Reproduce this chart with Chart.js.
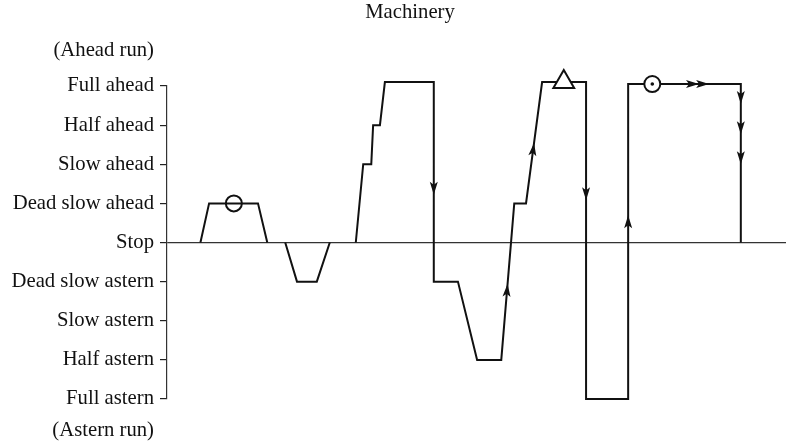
<!DOCTYPE html>
<html lang="en">
<head>
  <meta charset="UTF-8" />
  <title>Machinery</title>
  <script src="https://cdn.jsdelivr.net/npm/chart.js"></script>
  <style>
    html, body { margin: 0; padding: 0; background: #fff; }
    #wrap { width: 790px; height: 443px; position: relative; }
  </style>
</head>
<body>
  <div id="wrap"><canvas id="chart"></canvas></div>
  <script>
    const levelLabels = [
      "Full astern", "Half astern", "Slow astern", "Dead slow astern", "Stop",
      "Dead slow ahead", "Slow ahead", "Half ahead", "Full ahead"
    ];
    const runLabels = ["(Ahead run)", "(Astern run)"];
    const runLevels = [4.9, -4.8];

    // telegraph order over time (null level = back on Stop, line broken)
    const times  = [5.4, 6.8, 14.7, 16.2, 17.6, 19.1, 21.0, 24.2, 26.3, 28.4,
                    30.5, 31.7, 33.0, 33.3, 34.4, 35.2, 43.1, 43.1, 47.0, 50.1,
                    54.0, 56.1, 58.0, 60.6, 67.7, 67.7, 74.5, 74.5, 92.7, 92.7];
    const levels = [0, 1, 1, 0, null, 0, -1, -1, 0, null,
                    0, 2, 2, 3, 3, 4.1, 4.1, -1, -1, -3,
                    -3, 1, 1, 4.1, 4.1, -4, -4, 4.05, 4.05, 0];

    // symbols on the record
    const markerTimes  = [10.8, 64.1, 78.4];
    const markerLevels = [1, 4.1, 4.05];
    const markerStyles = ["circle", "triangle", "circle"];

    // arrowheads: segment index (from point i to i+1) and position along it
    const arrowSeg = [16, 20, 22, 24, 26, 27, 27, 28, 28, 28];
    const arrowAt  = [0.56, 0.48, 0.49, 0.37, 0.58, 0.62, 0.71, 0.12, 0.31, 0.50];

    const serif = '"Liberation Serif", "Times New Roman", serif';

    const extras = {
      id: 'extras',
      afterDatasetsDraw(chart) {
        const { ctx, scales: { x, y } } = chart;
        ctx.save();
        ctx.fillStyle = '#111';
        arrowSeg.forEach((s, k) => {
          const x0 = x.getPixelForValue(times[s]), y0 = y.getPixelForValue(levels[s]);
          const x1 = x.getPixelForValue(times[s + 1]), y1 = y.getPixelForValue(levels[s + 1]);
          const f = arrowAt[k];
          const px = x0 + (x1 - x0) * f, py = y0 + (y1 - y0) * f;
          ctx.save();
          ctx.translate(px, py);
          ctx.rotate(Math.atan2(y1 - y0, x1 - x0));
          ctx.beginPath();
          ctx.moveTo(1, 0);
          ctx.lineTo(-12, -4);
          ctx.lineTo(-9, 0);
          ctx.lineTo(-12, 4);
          ctx.closePath();
          ctx.fill();
          ctx.restore();
        });
        ctx.restore();
      },
      afterDraw(chart) {
        const { ctx, scales: { y } } = chart;
        ctx.save();
        ctx.fillStyle = '#111';
        ctx.font = '20.7px ' + serif;
        ctx.textBaseline = 'middle';
        ctx.textAlign = 'center';
        ctx.fillText('Machinery', chart.width / 2 + 15, 13);
        ctx.textAlign = 'right';
        runLabels.forEach((t, i) => {
          ctx.fillText(t, y.right - 13, y.getPixelForValue(runLevels[i]));
        });
        ctx.restore();
      }
    };

    new Chart(document.getElementById('chart'), {
      type: 'scatter',
      data: {
        datasets: [
          {
            data: [{ x: markerTimes[2], y: markerLevels[2] }],
            pointStyle: 'circle',
            pointRadius: 1.8,
            backgroundColor: '#111',
            borderWidth: 0,
            clip: false,
            order: 0
          },
          {
            data: markerTimes.map((t, i) => ({ x: t, y: markerLevels[i] })),
            pointStyle: markerStyles,
            pointRadius: [8, 12, 8],
            backgroundColor: ['rgba(0,0,0,0)', '#fff', '#fff'],
            borderColor: '#111',
            borderWidth: 2,
            clip: false,
            order: 1
          },
          {
            data: times.map((t, i) => ({ x: t, y: levels[i] })),
            showLine: true,
            spanGaps: false,
            borderColor: '#111',
            borderWidth: 2,
            pointRadius: 0,
            tension: 0,
            clip: false,
            order: 2
          }
        ]
      },
      options: {
        responsive: true,
        maintainAspectRatio: false,
        animation: false,
        layout: { autoPadding: false, padding: { top: 86, bottom: 44, left: 0, right: 4 } },
        plugins: { legend: { display: false }, tooltip: { enabled: false }, title: { display: false } },
        scales: {
          x: { type: 'linear', display: false, min: 0, max: 100, ticks: { display: false } },
          y: {
            min: -4,
            max: 4,
            afterFit: (s) => { s.width = 167; },
            ticks: {
              stepSize: 1,
              padding: 6,
              color: '#111',
              font: { family: serif, size: 20.7 },
              callback: (v) => levelLabels[v + 4]
            },
            grid: {
              color: (c) => (c.tick && c.tick.value === 0 ? '#333' : 'rgba(0,0,0,0)'),
              lineWidth: 1.2,
              tickColor: '#222',
              tickLength: 7,
              drawOnChartArea: true
            },
            border: { display: true, color: '#333', width: 1.2 }
          }
        }
      },
      plugins: [extras]
    });
  </script>
</body>
</html>
